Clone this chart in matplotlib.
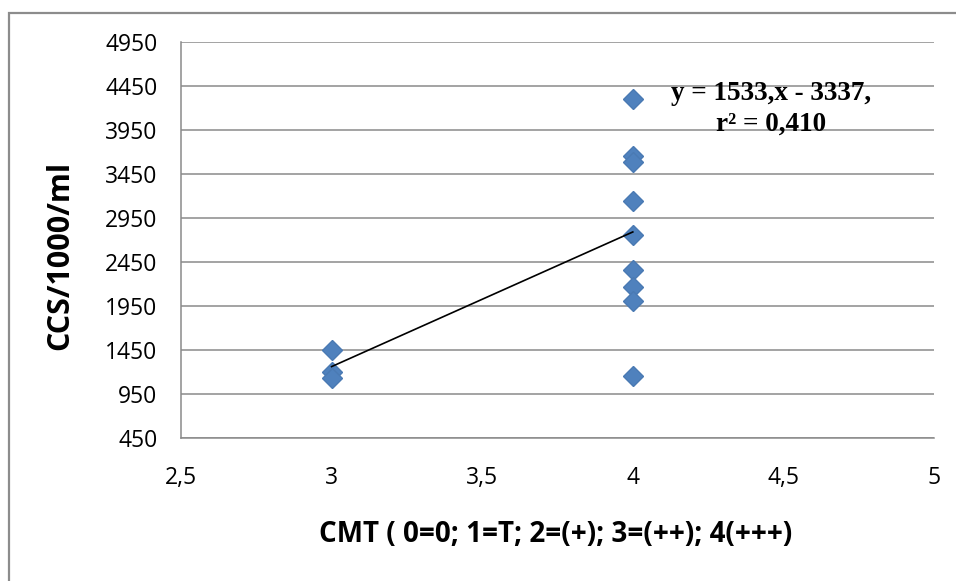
import numpy as np
import matplotlib; matplotlib.use('Agg')
import matplotlib.pyplot as plt
from matplotlib.patches import Rectangle

# CMT score vs somatic cell count
cmt = [3, 3, 3, 4, 4, 4, 4, 4, 4, 4, 4, 4]
ccs = [1449, 1205, 1130, 4300, 3650, 3590, 3141, 2762, 2360, 2162, 2002, 1156]
xticks = [2.5, 3, 3.5, 4, 4.5, 5]
xticklabels = ['2,5', '3', '3,5', '4', '4,5', '5']
yticks = [450, 950, 1450, 1950, 2450, 2950, 3450, 3950, 4450, 4950]
eq_text = 'y = 1533,x - 3337,\nr² = 0,410'

W, H = 956, 581
fig = plt.figure(figsize=(W/100, H/100), dpi=100)
fig.patches.append(Rectangle((9/W, -0.1), 1.2, 1.1-13/H, transform=fig.transFigure,
                             fill=False, edgecolor='#8c8c8c', lw=1.6))
ax = fig.add_axes([181/W, 1-438/H, (934-181)/W, (438-42)/H])

grid_c = '#8a8a8a'
ax.set_xlim(2.5, 5); ax.set_ylim(450, 4950)
ax.set_xticks(xticks); ax.set_xticklabels(xticklabels)
ax.set_yticks(yticks)
ax.yaxis.grid(True, color=grid_c, lw=1.1)
ax.set_axisbelow(True)
for s in ['top', 'right']:
    ax.spines[s].set_visible(False)
for s in ['left', 'bottom']:
    ax.spines[s].set_color(grid_c); ax.spines[s].set_linewidth(1.1)
ax.tick_params(length=0, labelsize=16.5)
ax.tick_params(axis='y', pad=17)
ax.tick_params(axis='x', pad=20)
for lab in ax.get_xticklabels() + ax.get_yticklabels():
    lab.set_fontfamily('Open Sans')

ax.plot(cmt, ccs, 'D', color='#4f81bd', markeredgecolor='#4a7ab3', markersize=10, zorder=3)
slope, inter = np.polyfit(cmt, ccs, 1)
xl = np.array([3, 4])
ax.plot(xl, slope*xl + inter, color='black', lw=1.2, zorder=4)

ax.text(771/W, 1-81/H, eq_text, transform=fig.transFigure, ha='center', va='top',
        fontsize=19.5, fontweight='bold', family='Liberation Serif', linespacing=1.3,
        zorder=5)

fig.text(556/W, 1-535/H, 'CMT ( 0=0; 1=T; 2=(+); 3=(++); 4(+++)', ha='center', va='center',
         fontsize=20, fontweight='bold', family='Open Sans')
fig.text(60/W, 1-255/H, 'CCS/1000/ml', ha='center', va='center', rotation=90,
         fontsize=22, fontweight='bold', family='Open Sans')

fig.savefig('out.png', dpi=100)
